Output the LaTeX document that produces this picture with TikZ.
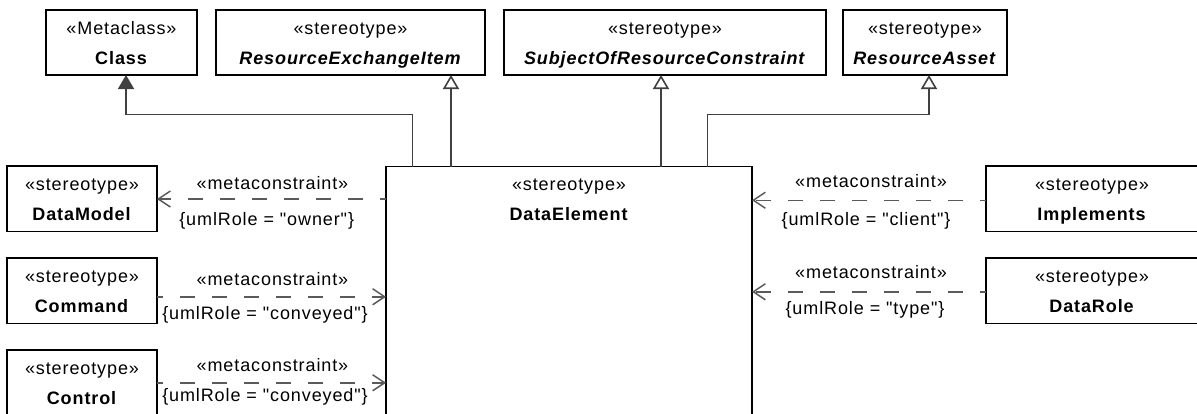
\documentclass[tikz,border=0pt]{standalone}
\usepackage{fontspec}
\setmainfont{Liberation Sans}[LetterSpace=5, Ligatures=TeXOff]
\usetikzlibrary{arrows.meta}
\definecolor{ln}{HTML}{404040}
\definecolor{dl}{HTML}{5A5A5A}
\tikzset{
 umlbox/.style={draw=black, line width=1.6pt, fill=white, inner sep=0pt, outer sep=0pt, anchor=north west},
 txt/.style={inner sep=0pt, anchor=base, font=\fontsize{18}{21}\selectfont},
 gen/.style={draw=ln, line width=1.6pt, -{Triangle[open, length=14pt, width=16pt, fill=white]}},
 genfill/.style={draw=ln, line width=1.6pt, -{Triangle[length=14pt, width=16pt, fill=ln]}},
 dep/.style={draw=dl, line width=1.5pt, dash pattern=on 15pt off 17pt, dash phase=9pt, -{Straight Barb[length=12pt, width=16pt]}},
}
\newcommand\q{"}
\newcommand\myumlbox[7]{%
 \node[umlbox, minimum width=#4pt, minimum height=#5pt] (#1) at (#2,#3) {};
 \node[txt] (#1s) at ([yshift=-24pt]#1.north) {#6};
 \node[txt] (#1t) at ([yshift=-54pt]#1.north) {#7};
}
\begin{document}
\begin{tikzpicture}[x=1pt,y=-1pt]
\useasboundingbox (0,0) rectangle (1197,413);
\clip (0,0) rectangle (1197,413);
\fill[white] (0,0) rectangle (1197,413);
% top row
\myumlbox{class}{46}{10}{151}{65}{«Metaclass»}{\textbf{Class}}
\myumlbox{rei}{216}{10}{269}{65}{«stereotype»}{\textbf{\textit{ResourceExchangeItem}}}
\myumlbox{subj}{504}{10}{322}{65}{«stereotype»}{\textbf{\textit{SubjectOfResourceConstraint}}}
\myumlbox{ra}{843}{10}{164}{65}{«stereotype»}{\textbf{\textit{ResourceAsset}}}
% central
\myumlbox{de}{386}{166.5}{366}{280}{«stereotype»}{\textbf{DataElement}}
% left
\myumlbox{dm}{7}{166}{150}{65.5}{«stereotype»}{\textbf{DataModel}}
\myumlbox{cmd}{7}{258}{150}{65.5}{«stereotype»}{\textbf{Command}}
\myumlbox{ctl}{7}{350}{150}{65.5}{«stereotype»}{\textbf{Control}}
% right
\myumlbox{impl}{986}{166}{212}{65.5}{«stereotype»}{\textbf{Implements}}
\myumlbox{drole}{986}{258}{212}{65.5}{«stereotype»}{\textbf{DataRole}}
% generalizations
\coordinate (bendL) at (126,114.5);
\coordinate (bendR) at (929,114.5);
\coordinate (p0) at ([xshift=26.5pt]de.north west);
\coordinate (p1) at ([xshift=65pt]de.north west);
\coordinate (p2) at ([xshift=275pt]de.north west);
\coordinate (p3) at ([xshift=321.5pt]de.north west);
\draw[genfill] (p0) |- (bendL) -- (bendL |- class.south);
\draw[gen] (p1) -- (p1 |- rei.south);
\draw[gen] (p2) -- (p2 |- subj.south);
\draw[gen] (p3) |- (bendR) -- (bendR |- ra.south);
% dependencies
\coordinate (dmE) at ([yshift=-0.25pt]dm.east);
\coordinate (cmdE) at ([yshift=-6pt]cmd.east);
\coordinate (ctlE) at (ctl.east);
\coordinate (implW) at ([yshift=-1.5pt]impl.west);
\coordinate (droleW) at ([yshift=-1pt]drole.west);
\draw[dep] (dmE -| de.west) -- (dmE);
\draw[dep] (cmdE) -- (cmdE -| de.west);
\draw[dep] (ctlE) -- (ctlE -| de.west);
\draw[dep] (implW) -- (implW -| de.east);
\draw[dep] (droleW) -- (droleW -| de.east);
% labels
\node[txt] (l1a) at (272.5,189) {«metaconstraint»};
\node[txt] (l1b) at (266.7,225) {\{umlRole = \q owner\q\}};
\node[txt] (l2a) at (272.5,285) {«metaconstraint»};
\node[txt] (l2b) at (265,319) {\{umlRole = \q conveyed\q\}};
\node[txt] (l3a) at (272.5,371.5) {«metaconstraint»};
\node[txt] (l3b) at (265,401) {\{umlRole = \q conveyed\q\}};
\node[txt] (r1a) at (871,187.5) {«metaconstraint»};
\node[txt] (r1b) at (866,225) {\{umlRole = \q client\q\}};
\node[txt] (r2a) at (871,278.5) {«metaconstraint»};
\node[txt] (r2b) at (865,314) {\{umlRole = \q type\q\}};
\end{tikzpicture}
\end{document}
